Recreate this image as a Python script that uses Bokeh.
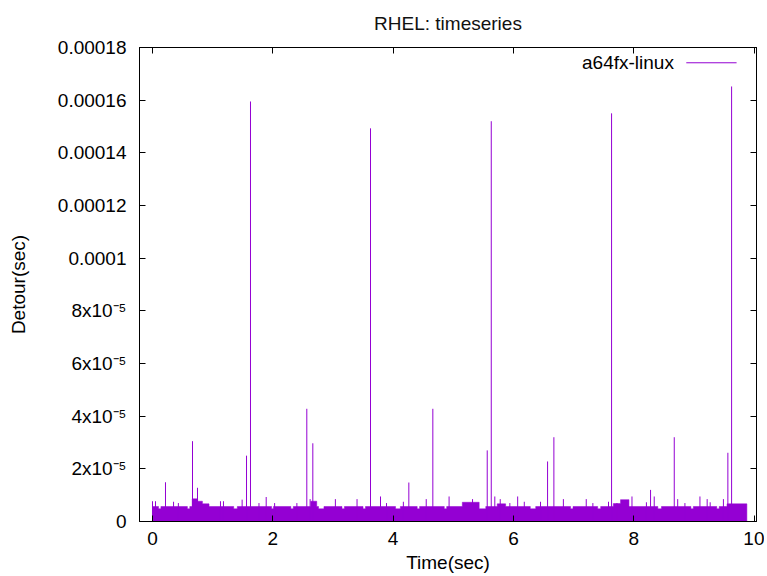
import numpy as np
from bokeh.plotting import figure
from bokeh.models import (Range1d, FixedTicker, CustomJSTickFormatter, LinearAxis,
                          Label, Arrow)
from bokeh.embed import file_html
from bokeh.resources import INLINE

# ---------------- data ----------------
# large detours: time (s), detour (s)
spike_t = [0.216, 0.665, 0.748, 1.563, 1.629, 2.565, 2.665, 3.624, 4.261, 4.660,
           5.564, 5.631, 6.567, 6.672, 7.631, 8.279, 8.673, 9.564, 9.626]
spike_v = [1.49e-5, 3.05e-5, 1.28e-5, 2.5e-5, 1.595e-4, 4.28e-5, 2.97e-5, 1.493e-4,
           1.48e-5, 4.28e-5, 2.7e-5, 1.52e-4, 2.28e-5, 3.2e-5, 1.55e-4, 1.2e-5,
           3.2e-5, 2.61e-5, 1.652e-4]

# small detours just above the noise floor
small_t = [0.00, 0.05, 0.35, 0.43, 1.13, 1.18, 1.49, 1.77, 1.89, 2.03, 2.40, 2.62,
           3.04, 3.40, 3.79, 3.89, 4.17, 4.55, 4.93, 5.32, 5.69, 5.78, 5.94, 6.07,
           6.18, 6.45, 6.83, 7.21, 7.32, 7.58, 7.72, 7.97, 8.21, 8.34, 8.73, 8.85,
           9.10, 9.22, 9.27, 9.49]
small_v = [7.7e-6, 7.7e-6, 7.5e-6, 7.0e-6, 7.7e-6, 7.7e-6, 8.3e-6, 7.0e-6, 9.3e-6,
           7.0e-6, 7.0e-6, 8.5e-6, 8.5e-6, 8.5e-6, 9.5e-6, 7.0e-6, 7.5e-6, 8.5e-6,
           9.5e-6, 8.5e-6, 9.5e-6, 8.5e-6, 7.0e-6, 9.5e-6, 7.5e-6, 7.5e-6, 8.5e-6,
           8.5e-6, 7.0e-6, 7.5e-6, 7.0e-6, 9.5e-6, 7.3e-6, 9.5e-6, 8.5e-6, 7.0e-6,
           9.5e-6, 8.5e-6, 7.3e-6, 8.5e-6]

# noise floor: plateaus (start, end, level)
floor_start = [0.00, 0.66, 0.75, 0.83, 0.94, 2.63, 2.73, 5.15, 5.43, 5.54, 5.73,
               5.87, 7.66, 7.78, 7.92, 9.55]
floor_end   = [0.66, 0.75, 0.83, 0.94, 2.63, 2.73, 5.15, 5.43, 5.54, 5.73, 5.87,
               7.66, 7.78, 7.92, 9.55, 9.88]
floor_level = [5.7e-6, 8.6e-6, 7.7e-6, 6.7e-6, 5.7e-6, 7.7e-6, 5.7e-6, 7.3e-6,
               4.8e-6, 5.7e-6, 6.7e-6, 5.7e-6, 6.8e-6, 8.3e-6, 5.7e-6, 6.7e-6]

# short dips in the noise floor
dip_start = [0.10, 0.58, 1.35, 1.98, 2.30, 2.76, 3.15, 3.50, 4.04, 4.40, 4.85,
             6.28, 6.95, 7.40, 8.40, 8.95, 9.38]
dip_end   = [0.14, 0.62, 1.41, 2.01, 2.34, 2.85, 3.19, 3.54, 4.12, 4.44, 4.89,
             6.37, 6.99, 7.45, 8.46, 8.99, 9.42]
dip_level = 4.8e-6

y_ticks = [0, 2e-5, 4e-5, 6e-5, 8e-5, 1e-4, 1.2e-4, 1.4e-4, 1.6e-4, 1.8e-4]
y_labels = ["0", "2x10\u207b\u2075", "4x10\u207b\u2075", "6x10\u207b\u2075",
            "8x10\u207b\u2075", "0.0001", "0.00012", "0.00014", "0.00016", "0.00018"]
x_ticks = [0, 2, 4, 6, 8, 10]

COLOR = "#9400d3"
FONT = "Liberation Sans"

# ---------------- build noise floor outline ----------------
edges = sorted(set(floor_start + floor_end + dip_start + dip_end))
xs, ys = [edges[0]], [0.0]
for a, b in zip(edges[:-1], edges[1:]):
    m = 0.5 * (a + b)
    lvl = 0.0
    for s, e, l in zip(floor_start, floor_end, floor_level):
        if s <= m < e:
            lvl = l
    for s, e in zip(dip_start, dip_end):
        if s <= m < e:
            lvl = min(lvl, dip_level)
    xs += [a, b]
    ys += [lvl, lvl]
xs.append(edges[-1])
ys.append(0.0)

# ---------------- figure ----------------
p = figure(frame_width=617, frame_height=474,
           x_range=Range1d(-0.216, 10.04), y_range=Range1d(0, 1.8e-4),
           output_backend="svg", toolbar_location=None,
           min_border_left=139, min_border_right=8, min_border_top=47,
           min_border_bottom=0, title="RHEL: timeseries")

p.patch(xs, ys, fill_color=COLOR, line_color=COLOR, line_width=0.5)
p.segment(x0=small_t, y0=[0] * len(small_t), x1=small_t, y1=small_v,
          line_color=COLOR, line_width=1)
p.segment(x0=spike_t, y0=[0] * len(spike_t), x1=spike_t, y1=spike_v,
          line_color=COLOR, line_width=1)

p.grid.visible = False
p.outline_line_color = "black"
p.outline_line_width = 1

p.title.align = "center"
p.title.vertical_align = "top"
p.title.text_font = FONT
p.title.text_font_size = "19px"
p.title.text_font_style = "normal"
p.title.text_color = "#111111"
p.title.standoff = 23

xa = p.xaxis[0]
ya = p.yaxis[0]
xa.ticker = FixedTicker(ticks=x_ticks)
ya.ticker = FixedTicker(ticks=y_ticks)
ya.formatter = CustomJSTickFormatter(args=dict(tvals=y_ticks, tlabels=y_labels), code="""
    for (let i = 0; i < tvals.length; i++) {
        if (Math.abs(tvals[i] - tick) < 1e-10) { return tlabels[i]; }
    }
    return "";
""")
xa.axis_label = "Time(sec)"
ya.axis_label = "Detour(sec)"
for ax in (xa, ya):
    ax.major_label_text_font = FONT
    ax.major_label_text_font_size = "19px"
    ax.major_label_text_color = "black"
    ax.axis_label_text_font = FONT
    ax.axis_label_text_font_size = "19px"
    ax.axis_label_text_font_style = "normal"
    ax.axis_label_text_color = "black"
    ax.major_tick_in = 6
    ax.major_tick_out = 0
    ax.minor_tick_line_color = None
    ax.axis_line_color = "black"
    ax.major_tick_line_color = "black"
xa.major_label_standoff = 10
xa.axis_label_standoff = 4
ya.major_label_standoff = 13
ya.axis_label_standoff = 26

# mirrored tick axes (gnuplot style), without labels
top = LinearAxis(ticker=FixedTicker(ticks=x_ticks))
right = LinearAxis(ticker=FixedTicker(ticks=y_ticks))
for ax in (top, right):
    ax.major_label_text_font_size = "1px"
    ax.major_label_text_color = None
    ax.formatter = CustomJSTickFormatter(code="return '';")
    ax.major_label_standoff = 0
    ax.major_tick_in = 6
    ax.major_tick_out = 0
    ax.minor_tick_line_color = None
    ax.axis_line_color = "black"
    ax.major_tick_line_color = "black"
p.add_layout(top, "above")
p.add_layout(right, "right")

# gnuplot-style key: text then line sample
p.add_layout(Label(x=8.667, y=1.743e-4, text="a64fx-linux", text_align="right",
                   text_baseline="middle", text_font=FONT, text_font_size="19px",
                   text_color="black"))
p.add_layout(Arrow(end=None, x_start=8.873, y_start=1.742e-4, x_end=9.709,
                   y_end=1.742e-4, line_color=COLOR, line_width=1))

open("out.html", "w").write(file_html(p, INLINE))
